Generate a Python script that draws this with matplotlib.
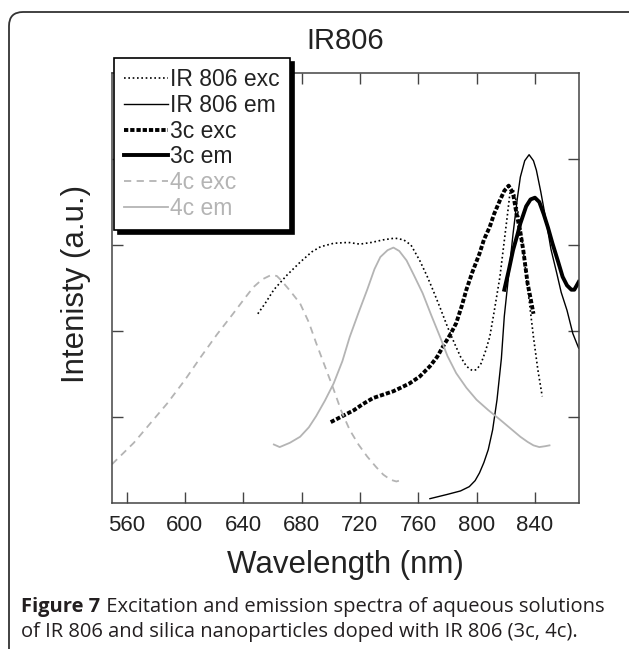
import matplotlib
matplotlib.use('Agg')
import matplotlib.pyplot as plt
from matplotlib.patches import FancyBboxPatch

plt.rcParams['font.family'] = ['Liberation Sans', 'DejaVu Sans']

# spectra (wavelength in nm, intensity in arbitrary units)
ir_exc_x = [650, 655, 661, 670, 679, 687, 693, 702, 712, 720, 728, 736, 744, 750, 755, 761, 766, 770, 775,
            780, 785, 789, 793, 797, 800, 803, 806, 809, 812, 816, 819, 821, 823, 825, 827, 830, 832, 835,
            839, 842, 845]
ir_exc_y = [2.20, 2.32, 2.48, 2.65, 2.80, 2.92, 2.98, 3.02, 3.03, 3.01, 3.03, 3.06, 3.08, 3.06, 3.00, 2.82,
            2.64, 2.48, 2.27, 2.05, 1.85, 1.70, 1.59, 1.54, 1.55, 1.62, 1.76, 1.93, 2.22, 2.63, 3.05, 3.33,
            3.62, 3.66, 3.52, 3.22, 2.94, 2.50, 1.93, 1.55, 1.24]

ir_em_x = [768, 780, 789, 795, 799, 802, 805, 808, 811, 814, 817, 819, 822, 825, 828, 830, 833, 836, 839,
           841, 844, 848, 851, 855, 858, 862, 866, 870]
ir_em_y = [0.05, 0.10, 0.14, 0.19, 0.26, 0.35, 0.47, 0.62, 0.85, 1.20, 1.68, 2.17, 2.65, 3.13, 3.55, 3.79,
           3.98, 4.05, 3.98, 3.87, 3.62, 3.25, 2.95, 2.67, 2.45, 2.24, 1.97, 1.80]

c3_exc_x = [700, 708, 716, 722, 729, 736, 743, 748, 754, 761, 768, 773, 777, 782, 786, 790, 793, 797, 802,
            805, 809, 812, 816, 819, 822, 825, 827, 830, 832, 835, 837, 839]
c3_exc_y = [0.94, 1.01, 1.08, 1.15, 1.22, 1.26, 1.30, 1.34, 1.39, 1.47, 1.59, 1.70, 1.82, 1.96, 2.09, 2.30,
            2.48, 2.68, 2.90, 3.06, 3.21, 3.36, 3.52, 3.63, 3.69, 3.60, 3.40, 3.15, 2.94, 2.55, 2.38, 2.20]

c3_em_x = [819, 822, 825, 828, 830, 834, 837, 840, 843, 846, 849, 852, 856, 859, 862, 865, 867, 870]
c3_em_y = [2.48, 2.70, 2.94, 3.12, 3.25, 3.45, 3.53, 3.55, 3.50, 3.36, 3.20, 3.02, 2.80, 2.63, 2.53, 2.48,
           2.48, 2.57]

c4_exc_x = [550, 556, 565, 576, 588, 600, 611, 622, 633, 641, 647, 653, 659, 663, 666, 672, 679, 685, 690,
            696, 702, 707, 713, 719, 725, 731, 736, 741, 745, 749]
c4_exc_y = [0.45, 0.55, 0.70, 0.92, 1.16, 1.43, 1.70, 1.96, 2.20, 2.38, 2.51, 2.60, 2.65, 2.64, 2.59, 2.47,
            2.32, 2.10, 1.86, 1.59, 1.32, 1.08, 0.85, 0.68, 0.54, 0.42, 0.33, 0.27, 0.25, 0.27]

c4_em_x = [661, 665, 672, 679, 685, 690, 696, 702, 708, 713, 719, 725, 730, 734, 739, 743, 747, 752, 757,
           763, 769, 775, 780, 786, 793, 800, 808, 816, 823, 830, 835, 839, 843, 847, 850]
c4_em_y = [0.68, 0.65, 0.70, 0.77, 0.88, 1.01, 1.19, 1.39, 1.65, 1.93, 2.21, 2.48, 2.72, 2.86, 2.94, 2.97,
           2.93, 2.82, 2.65, 2.44, 2.18, 1.93, 1.71, 1.51, 1.34, 1.20, 1.08, 0.97, 0.87, 0.77, 0.71, 0.67,
           0.65, 0.66, 0.67]

x_ticks = [560, 600, 640, 680, 720, 760, 800, 840]

gray = '#b4b4b4'
ink = '#222222'

fig = plt.figure(figsize=(6.29, 6.49), dpi=100)
ax = fig.add_axes([0.178, 0.225, 0.742, 0.6625])

ax.plot(ir_exc_x, ir_exc_y, color='k', lw=1.2, ls=(0, (1, 1.6)), label='IR 806 exc')
ax.plot(ir_em_x, ir_em_y, color='k', lw=1.0, label='IR 806 em')
ax.plot(c3_exc_x, c3_exc_y, color='k', lw=2.8, ls=(0, (1.1, 0.5)), label='3c exc')
ax.plot(c3_em_x, c3_em_y, color='k', lw=2.8, label='3c em')
ax.plot(c4_exc_x, c4_exc_y, color=gray, lw=1.3, ls=(0, (4, 3)), label='4c exc')
ax.plot(c4_em_x, c4_em_y, color=gray, lw=1.3, label='4c em')

ax.set_xlim(550, 870)
ax.set_ylim(0, 5)
ax.set_xticks(x_ticks)
ax.set_yticks([1, 2, 3, 4])
ax.set_yticklabels([])
ax.tick_params(direction='in', length=8, width=1, color='#444444', top=True, right=True,
               labelsize=16, labelcolor=ink, pad=9)
for s in ax.spines.values():
    s.set_color('#444444')
    s.set_linewidth(1.1)

ax.set_title('IR806', fontsize=21, color=ink, pad=17)
ax.set_xlabel('Wavelength (nm)', fontsize=22.5, color=ink, labelpad=10)
ax.set_ylabel('Intenisty (a.u.)', fontsize=22.5, color=ink)
ax.yaxis.set_label_coords(-0.045, 0.51)

leg = ax.legend(loc='upper left', bbox_to_anchor=(0.181, 0.911), bbox_transform=fig.transFigure,
                fontsize=16.5, handlelength=1.9, handletextpad=0.1, labelspacing=0.12, borderpad=0.45,
                borderaxespad=0, fancybox=False, framealpha=1,
                shadow={'color': 'k', 'alpha': 1, 'ox': 3, 'oy': -3})
leg.get_frame().set_edgecolor('k')
leg.get_frame().set_linewidth(1.2)
for t, c in zip(leg.get_texts(), [ink, ink, ink, ink, gray, gray]):
    t.set_color(c)

# rounded frame around the figure panel
frame = FancyBboxPatch((0.09, -0.5), 7.0, 6.37 + 0.5, boxstyle='round,pad=0,rounding_size=0.14',
                       transform=fig.dpi_scale_trans, fc='none', ec='#333333', lw=1.3, clip_on=False)
fig.patches.append(frame)

cap = 'Open Sans'
t1 = fig.text(0.034, 0.049, 'Figure 7', fontsize=14.5, fontweight='bold', family=cap, color='#231f20',
              va='bottom')
ax.annotate(' Excitation and emission spectra of aqueous solutions', xy=(1, 0), xycoords=t1,
            fontsize=14.5, family=cap, color='#231f20', va='bottom', annotation_clip=False)
fig.text(0.034, 0.0105, 'of IR 806 and silica nanoparticles doped with IR 806 (3c, 4c).', fontsize=14.5,
         family=cap, color='#231f20', va='bottom')

fig.savefig('out.png', dpi=100)
